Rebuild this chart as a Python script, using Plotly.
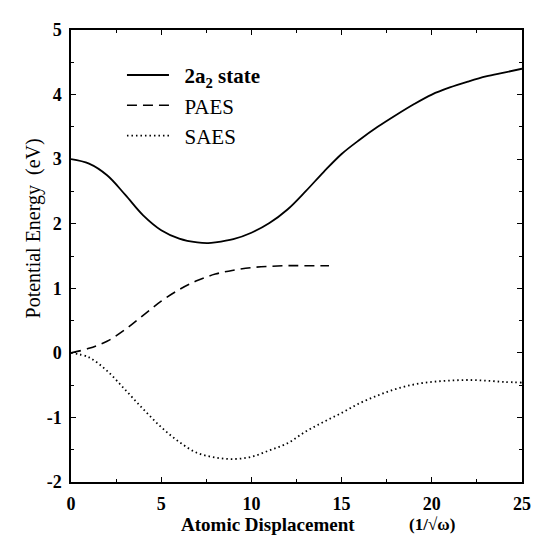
import plotly.graph_objects as go

# --- data ---
state_x = [0, 1, 2, 3, 4, 5, 6, 7, 7.6, 8, 9, 10, 11, 12, 13, 14, 15, 16, 17, 18, 19, 20, 21, 22, 23, 24, 25]
state_y = [3.0, 2.93, 2.75, 2.45, 2.13, 1.9, 1.77, 1.71, 1.70, 1.71, 1.76, 1.86, 2.01, 2.22, 2.5, 2.8, 3.08, 3.3, 3.5, 3.68, 3.85, 4.0, 4.11, 4.2, 4.28, 4.34, 4.40]

paes_x = [0, 1, 2, 3, 4, 5, 6, 7, 8, 9, 10, 11, 12, 13, 14.3]
paes_y = [0, 0.07, 0.18, 0.36, 0.58, 0.8, 0.98, 1.12, 1.22, 1.28, 1.32, 1.34, 1.35, 1.35, 1.35]

saes_x = [0, 1, 2, 3, 4, 5, 6, 7, 8, 9, 10, 11, 12, 13, 14, 15, 16, 17, 18, 19, 20, 21, 22, 23, 24, 25]
saes_y = [0, -0.07, -0.28, -0.57, -0.87, -1.15, -1.38, -1.55, -1.62, -1.645, -1.61, -1.51, -1.40, -1.22, -1.07, -0.93, -0.78, -0.66, -0.56, -0.49, -0.45, -0.43, -0.42, -0.43, -0.45, -0.46]

series_names = ["<b>2a<sub>2</sub> state</b>", "PAES", "SAES"]
y_ticks = [-2, -1, 0, 1, 2, 3, 4, 5]
x_ticks = [0, 5, 10, 15, 20, 25]

SERIF = "Liberation Serif, Times New Roman, serif"
NB = "&nbsp;&nbsp;"

fig = go.Figure()
fig.add_trace(go.Scatter(x=state_x, y=state_y, mode="lines", name=NB + series_names[0],
                         line=dict(color="black", width=1.8, shape="spline")))
fig.add_trace(go.Scatter(x=paes_x, y=paes_y, mode="lines", name=NB + series_names[1],
                         line=dict(color="black", width=1.6, dash="10px,6px", shape="spline")))
fig.add_trace(go.Scatter(x=saes_x, y=saes_y, mode="lines", name=NB + series_names[2],
                         line=dict(color="black", width=1.8, dash="1.5px,3px", shape="spline")))

# the page body adds an 8px offset; the figure is sized so the plot lands where the reference has it
fig.update_layout(
    width=535, height=535,
    margin=dict(l=63, r=12, t=13, b=61),
    paper_bgcolor="white", plot_bgcolor="white",
    font=dict(family=SERIF, color="black", size=18),
    showlegend=True,
    legend=dict(x=0.113, y=0.945, xanchor="left", yanchor="top",
                bgcolor="rgba(0,0,0,0)", borderwidth=0,
                font=dict(family=SERIF, size=21, color="black"),
                itemwidth=42, tracegroupgap=0),
    xaxis=dict(range=[0, 25], tickvals=x_ticks, ticktext=["<b>%d</b>" % v for v in x_ticks],
               showgrid=False, zeroline=False, showline=True, linecolor="black", linewidth=1.5,
               mirror="ticks", ticks="inside", ticklen=5, tickcolor="black",
               ticklabelstandoff=5,
               tickfont=dict(family=SERIF, size=18, color="black"),
               minor=dict(ticks="inside", ticklen=3, dtick=2.5, tickcolor="black")),
    yaxis=dict(range=[-2, 5], tickvals=y_ticks, ticktext=["<b>%d</b>" % v for v in y_ticks],
               showgrid=False, zeroline=False, showline=True, linecolor="black", linewidth=1.5,
               mirror="ticks", ticks="inside", ticklen=5, tickcolor="black",
               ticklabelstandoff=4,
               tickfont=dict(family=SERIF, size=18, color="black"),
               minor=dict(ticks="inside", ticklen=3, dtick=0.5, tickcolor="black")),
)

fig.add_annotation(text="<b>Atomic Displacement</b>", xref="paper", yref="paper",
                   x=0.437, y=-0.094, xanchor="center", yanchor="middle", showarrow=False,
                   font=dict(family=SERIF, size=19, color="black"))
fig.add_annotation(text="<b>(1/√ω)</b>", xref="paper", yref="paper",
                   x=0.80, y=-0.094, xanchor="center", yanchor="middle", showarrow=False,
                   font=dict(family=SERIF, size=17, color="black"))
fig.add_annotation(text="Potential Energy  (eV)", xref="paper", yref="paper",
                   x=-0.083, y=0.56, xanchor="center", yanchor="middle", textangle=-90,
                   showarrow=False, font=dict(family=SERIF, size=20, color="black"))

fig.write_html("out.html")
